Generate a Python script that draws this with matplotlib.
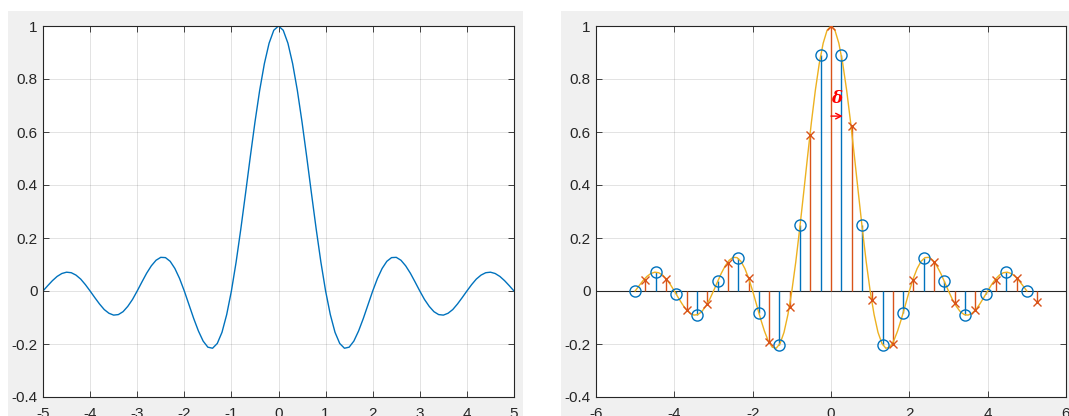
# sinc curve (left) and shifted sampling with stems (right), MATLAB look

import numpy as np
import matplotlib.pyplot as plt
from matplotlib.patches import Rectangle

plt.rcParams['font.family'] = ['Liberation Sans', 'DejaVu Sans']
plt.rcParams['axes.unicode_minus'] = False

# continuous curve, read at 0.1 steps from -5 to 5
x_fine = np.linspace(-5, 5, 101)
y_fine = [0.000, 0.020, 0.039, 0.055, 0.066, 0.071, 0.069, 0.060, 0.045, 0.024,
          0.000, -0.025, -0.049, -0.070, -0.084, -0.091, -0.089, -0.078, -0.058, -0.032,
          0.000, 0.034, 0.067, 0.095, 0.116, 0.127, 0.126, 0.112, 0.085, 0.047,
          0.000, -0.052, -0.104, -0.151, -0.189, -0.212, -0.216, -0.198, -0.156, -0.089,
          0.000, 0.109, 0.234, 0.368, 0.505, 0.637, 0.757, 0.858, 0.935, 0.984,
          1.000,
          0.984, 0.935, 0.858, 0.757, 0.637, 0.505, 0.368, 0.234, 0.109, 0.000,
          -0.089, -0.156, -0.198, -0.216, -0.212, -0.189, -0.151, -0.104, -0.052, 0.000,
          0.047, 0.085, 0.112, 0.126, 0.127, 0.116, 0.095, 0.067, 0.034, 0.000,
          -0.032, -0.058, -0.078, -0.089, -0.091, -0.084, -0.070, -0.049, -0.025, 0.000,
          0.024, 0.045, 0.060, 0.069, 0.071, 0.066, 0.055, 0.039, 0.020, 0.000]

# original samples (circles)
x_samp = [-5.000, -4.474, -3.947, -3.421, -2.895, -2.368, -1.842, -1.316, -0.789, -0.263,
          0.263, 0.789, 1.316, 1.842, 2.368, 2.895, 3.421, 3.947, 4.474, 5.000]
y_samp = [0.000, 0.071, -0.013, -0.090, 0.036, 0.123, -0.083, -0.203, 0.248, 0.890,
          0.890, 0.248, -0.203, -0.083, 0.123, 0.036, -0.090, -0.013, 0.071, 0.000]

# shifted samples (crosses)
x_shift = [-4.737, -4.211, -3.684, -3.158, -2.632, -2.105, -1.579, -1.053, -0.526, 0.000,
           0.526, 1.053, 1.579, 2.105, 2.632, 3.158, 3.684, 4.211, 4.737, 5.263]
y_shift = [0.043, 0.047, -0.071, -0.049, 0.107, 0.049, -0.192, -0.062, 0.588, 1.000,
           0.622, -0.033, -0.199, 0.040, 0.111, -0.044, -0.073, 0.043, 0.050, -0.042]

yticks = [-0.4, -0.2, 0, 0.2, 0.4, 0.6, 0.8, 1]
ylabels = ['-0.4', '-0.2', '0', '0.2', '0.4', '0.6', '0.8', '1']

blue = '#0072BD'
orange = '#D95319'
yellow = '#EDB120'
dark = '#262626'

W, H = 1069, 416
fig = plt.figure(figsize=(W / 100, H / 100), dpi=100, facecolor='white')

# gray figure panels (two screenshots side by side)
for px0, px1 in [(8, 523), (561, 1069)]:
    fig.patches.append(Rectangle((px0 / W, 0), (px1 - px0) / W, (H - 11) / H,
                                 transform=fig.transFigure, facecolor='#F0F0F0',
                                 edgecolor='none', zorder=-5))


def style(ax, xticks):
    ax.set_ylim(-0.4, 1)
    ax.set_yticks(yticks)
    ax.set_yticklabels(ylabels)
    ax.set_xticks(xticks)
    ax.set_xticklabels([str(t) for t in xticks])
    ax.grid(True, color=dark, alpha=0.15, lw=0.6)
    ax.set_axisbelow(True)
    for s in ax.spines.values():
        s.set_color(dark)
        s.set_linewidth(0.8)
    ax.tick_params(direction='in', length=4, width=0.6, color=dark, labelcolor=dark,
                   labelsize=11, top=True, right=True)
    ax.tick_params(axis='x', pad=7)
    ax.tick_params(axis='y', pad=4)
    ax.set_facecolor('white')


ax1 = fig.add_axes([43 / W, (H - 397) / H, 471 / W, 371 / H])
ax1.plot(x_fine, y_fine, color=blue, lw=1)
ax1.set_xlim(-5, 5)
style(ax1, list(range(-5, 6)))

ax2 = fig.add_axes([596 / W, (H - 397) / H, 470 / W, 371 / H])
ax2.axhline(0, color=dark, lw=0.8, zorder=2)
ax2.vlines(x_samp, 0, y_samp, color=blue, lw=1, zorder=3)
ax2.vlines(x_shift, 0, y_shift, color=orange, lw=1, zorder=3)
ax2.plot(x_fine, y_fine, color=yellow, lw=1, zorder=4)
ax2.plot(x_samp, y_samp, 'o', mfc='none', mec=blue, ms=8, mew=1, zorder=5)
ax2.plot(x_shift, y_shift, 'x', color=orange, ms=6, mew=1, zorder=5)
ax2.annotate('', xy=(0.30, 0.66), xytext=(0, 0.66),
             arrowprops=dict(arrowstyle='->', color='red', lw=1, shrinkA=0, shrinkB=0),
             zorder=6)
ax2.text(0.14, 0.725, 'δ', color='red', fontsize=12, fontweight='bold', style='italic',
         family='DejaVu Serif', ha='center', va='center', zorder=6)
ax2.set_xlim(-6, 6)
style(ax2, [-6, -4, -2, 0, 2, 4, 6])

fig.savefig('out.png', dpi=100, facecolor=fig.get_facecolor())
